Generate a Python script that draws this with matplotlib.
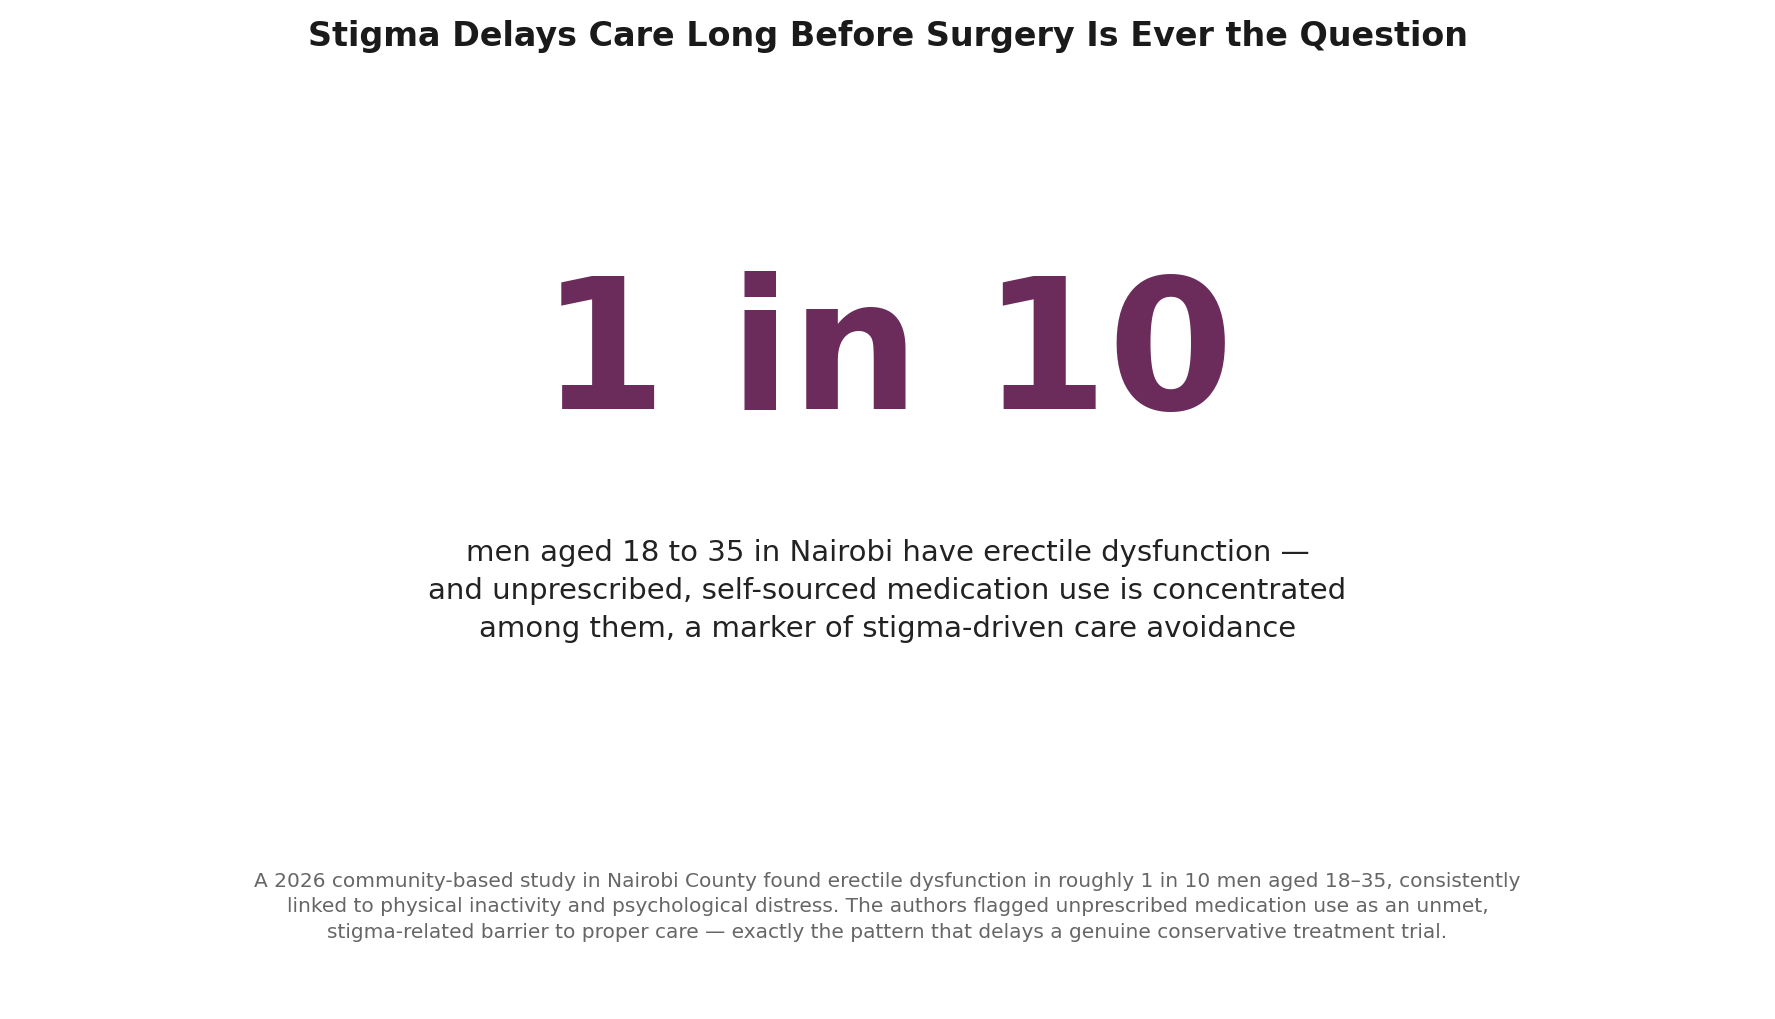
import matplotlib
matplotlib.use("Agg")
import matplotlib.pyplot as plt

title = "Stigma Delays Care Long Before Surgery Is Ever the Question"
big_stat = "1 in 10"
body_lines = [
    "men aged 18 to 35 in Nairobi have erectile dysfunction —",
    "and unprescribed, self-sourced medication use is concentrated",
    "among them, a marker of stigma-driven care avoidance",
]
footer_lines = [
    "A 2026 community-based study in Nairobi County found erectile dysfunction in roughly 1 in 10 men aged 18–35, consistently",
    "linked to physical inactivity and psychological distress. The authors flagged unprescribed medication use as an unmet,",
    "stigma-related barrier to proper care — exactly the pattern that delays a genuine conservative treatment trial.",
]

fig = plt.figure(figsize=(17.75, 10.19), dpi=100)
fig.patch.set_facecolor("white")

fig.text(0.5, 0.964, title, ha="center", va="center", fontsize=24,
         fontweight="bold", color="#1a1a1a")
fig.text(0.5, 0.648, big_stat, ha="center", va="center", fontsize=130,
         fontweight="bold", color="#6b2c5c")
fig.text(0.5, 0.42, "\n".join(body_lines), ha="center", va="center",
         fontsize=21, color="#222222", linespacing=1.45)
fig.text(0.5, 0.11, "\n".join(footer_lines), ha="center", va="center",
         fontsize=14.5, color="#666666", linespacing=1.45)

fig.savefig("out.png", dpi=100, facecolor="white")
